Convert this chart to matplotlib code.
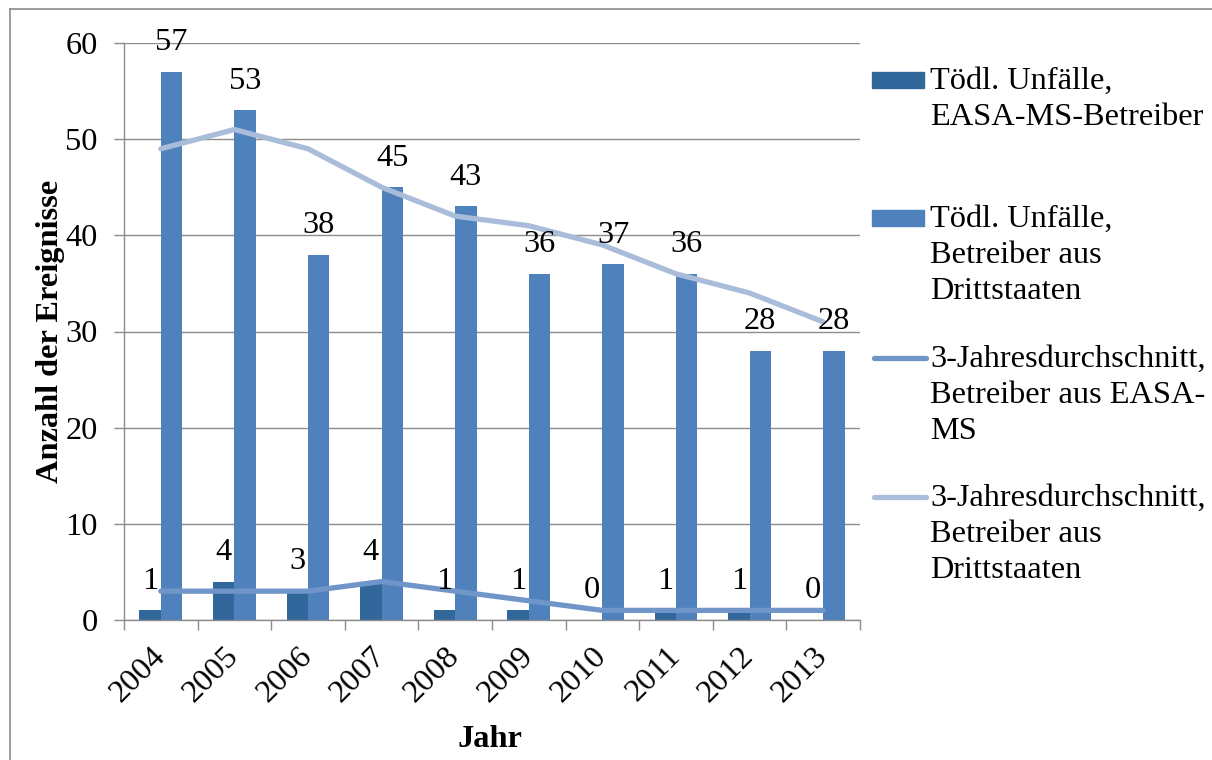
import numpy as np
import matplotlib.pyplot as plt
from matplotlib.lines import Line2D
from matplotlib.patches import Rectangle

plt.rcParams["font.family"] = ["Liberation Serif", "DejaVu Serif"]

years = ["2004", "2005", "2006", "2007", "2008", "2009", "2010", "2011", "2012", "2013"]
easa_fatal = [1, 4, 3, 4, 1, 1, 0, 1, 1, 0]
third_fatal = [57, 53, 38, 45, 43, 36, 37, 36, 28, 28]
easa_avg3 = [3, 3, 3, 4, 3, 2, 1, 1, 1, 1]
third_avg3 = [49, 51, 49, 45, 42, 41, 39, 36, 34, 31]

legend_labels = [
    "Tödl. Unfälle,\nEASA-MS-Betreiber",
    "Tödl. Unfälle,\nBetreiber aus\nDrittstaaten",
    "3-Jahresdurchschnitt,\nBetreiber aus EASA-\nMS",
    "3-Jahresdurchschnitt,\nBetreiber aus\nDrittstaaten",
]

c_dark = "#32679c"
c_bar = "#4f81bd"
c_line1 = "#7095c8"
c_line2 = "#a9bcda"
c_grid = "#8c8c8c"

fs = 23.3
W, H = 1212, 760
fig = plt.figure(figsize=(W / 100, H / 100), dpi=100)
ax = fig.add_axes([124 / W, 1 - 620 / H, 736 / W, 577 / H])

x = np.arange(len(years))
bw = 0.29
b1 = ax.bar(x - bw, easa_fatal, width=bw, align="edge", color=c_dark, zorder=2)
b2 = ax.bar(x, third_fatal, width=bw, align="edge", color=c_bar, zorder=2)
ax.plot(x, easa_avg3, color=c_line1, lw=3.8, solid_capstyle="round", zorder=3)
ax.plot(x, third_avg3, color=c_line2, lw=3.8, solid_capstyle="round", zorder=3)

for bars, vals in [(b1, easa_fatal), (b2, third_fatal)]:
    for r, v in zip(bars, vals):
        ax.annotate(str(v), (r.get_x() + r.get_width() / 2, v), xytext=(0, 21),
                    textcoords="offset points", ha="center", va="center",
                    fontsize=fs, zorder=4)

ax.set_xlim(-0.5, len(years) - 0.5)
ax.set_ylim(0, 60)
ax.set_yticks(range(0, 61, 10))
ax.yaxis.grid(True, color=c_grid, lw=1.0, zorder=0)
ax.set_axisbelow(True)

ax.set_xticks(x)
ax.set_xticklabels(years, rotation=45, ha="right", va="center", rotation_mode="anchor")
ax.set_xticks(np.arange(-0.5, len(years)), minor=True)
ax.tick_params(axis="x", which="major", length=0, pad=23, labelsize=fs)
ax.tick_params(axis="x", which="minor", length=7, width=1.0, color=c_grid, direction="out")
ax.tick_params(axis="y", length=7, width=1.0, color=c_grid, pad=12, labelsize=fs)

for s in ["top", "right"]:
    ax.spines[s].set_visible(False)
for s in ["left", "bottom"]:
    ax.spines[s].set_color(c_grid)
    ax.spines[s].set_linewidth(1.0)

ax.set_ylabel("Anzahl der Ereignisse", fontsize=fs, fontweight="bold")
ax.yaxis.set_label_coords(-0.08, 0.5)
ax.set_xlabel("Jahr", fontsize=fs, fontweight="bold")
ax.xaxis.set_label_coords(0.497, -0.182)

# legend, drawn by hand so each marker sits at the first text line
def fx(px):
    return px / W

def fy(py):
    return 1 - py / H

rows = [80, 218, 358, 497]
for i, (lab, row) in enumerate(zip(legend_labels, rows)):
    if i < 2:
        col = c_dark if i == 0 else c_bar
        fig.add_artist(Rectangle((fx(872), fy(row + 8)), fx(924) - fx(872), 16 / H,
                                 color=col, transform=fig.transFigure))
    else:
        col = c_line1 if i == 2 else c_line2
        fig.add_artist(Line2D([fx(874), fx(926)], [fy(row), fy(row)], color=col, lw=3.8,
                              solid_capstyle="round", transform=fig.transFigure))
    fig.text(fx(930), fy(row - 13), lab, fontsize=fs, va="top", ha="left", linespacing=1.32)

# outer frame
fig.add_artist(Line2D([fx(10), fx(10)], [0, fy(9)], color=c_grid, lw=1.2, transform=fig.transFigure))
fig.add_artist(Line2D([fx(10), 1], [fy(9), fy(9)], color=c_grid, lw=1.2, transform=fig.transFigure))

fig.savefig("out.png", dpi=100)
